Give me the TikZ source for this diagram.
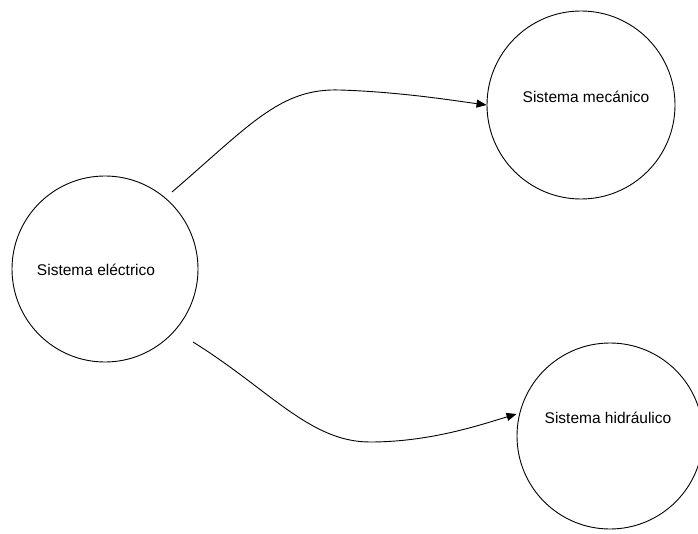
\documentclass[tikz,border=0pt]{standalone}
\usepackage{fontspec}
\setmainfont{Liberation Sans}
\usetikzlibrary{arrows.meta}
\begin{document}
\begin{tikzpicture}[x=1pt,y=-1pt,
  sysnode/.style={draw,circle,line width=0.9pt,inner sep=0pt},
  sysarrow/.style={line width=0.9pt,-{Triangle[length=10pt,width=8pt]}},
  lbl/.style={font=\fontsize{15.5}{17}\selectfont}]
\useasboundingbox (0,0) rectangle (698,534);
\node[sysnode,minimum size=186pt] (e) at (105,269) {};
\node[sysnode,minimum size=188pt] (m) at (581,105) {};
\node[sysnode,minimum size=186pt] (h) at (610,436) {};
\node[lbl] (te) at (96,270) {Sistema eléctrico};
\node[lbl] (tm) at (586,97) {Sistema mecánico};
\node[lbl] (th) at (608,418) {Sistema hidráulico};
\coordinate (a1) at (172,192);
\coordinate (a2) at (193,342);
\draw[sysarrow] (a1) .. controls (250,125) and (280,88) .. (340,90) .. controls (400,92) and (450,100) .. (m.west);
\draw[sysarrow] (a2) .. controls (270,390) and (310,442) .. (370,442) .. controls (430,442) and (480,425) .. (h.west |- 0,414);
\end{tikzpicture}
\end{document}
